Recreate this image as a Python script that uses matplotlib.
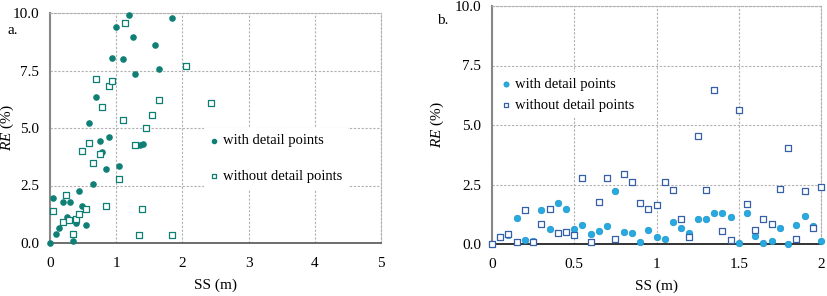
import matplotlib
matplotlib.use("Agg")
import matplotlib.pyplot as plt

# ---- Panel a data ----
a_with_x = [0.00, 0.09, 0.14, 0.20, 0.25, 0.04, 0.30, 0.34, 0.39, 0.44, 0.49, 0.55, 0.59, 0.65, 0.69, 0.75,
            0.79, 0.84, 0.89, 0.94, 1.00, 1.04, 1.10, 1.19, 1.25, 1.29, 1.36, 1.40, 1.59, 1.64, 1.84]
a_with_y = [0.00, 0.40, 0.65, 1.80, 1.15, 1.97, 1.80, 0.10, 0.85, 2.26, 1.60, 0.80, 5.22, 2.55, 6.35, 4.43,
            3.97, 3.20, 4.60, 8.06, 9.40, 3.35, 8.02, 9.90, 8.97, 7.35, 4.25, 4.30, 8.60, 7.55, 9.80]
a_without_x = [0.04, 0.19, 0.24, 0.29, 0.34, 0.39, 0.44, 0.48, 0.54, 0.59, 0.65, 0.69, 0.75, 0.79, 0.84,
               0.89, 0.94, 1.04, 1.10, 1.14, 1.29, 1.35, 1.39, 1.45, 1.54, 1.64, 1.84, 2.05, 2.43]
a_without_y = [1.37, 0.92, 2.09, 1.00, 0.38, 1.04, 1.26, 4.00, 1.50, 4.35, 3.50, 7.15, 3.89, 5.90, 1.63,
               6.81, 7.06, 2.79, 5.36, 9.57, 4.28, 0.33, 1.50, 5.00, 5.55, 6.23, 0.36, 7.70, 6.10]

# ---- Panel b data ----
b_x = [0.00, 0.05, 0.10, 0.15, 0.20, 0.25, 0.30, 0.35, 0.40, 0.45, 0.50, 0.55, 0.60, 0.65, 0.70, 0.75,
       0.80, 0.85, 0.90, 0.95, 1.00, 1.05, 1.10, 1.15, 1.20, 1.25, 1.30, 1.35, 1.40, 1.45, 1.50, 1.55,
       1.60, 1.65, 1.70, 1.75, 1.80, 1.85, 1.90, 1.95, 2.00]
b_with_y = [0.00, 0.29, 0.39, 1.09, 0.18, 0.13, 1.42, 0.62, 1.74, 1.46, 0.62, 0.80, 0.41, 0.55, 0.77, 2.23,
            0.49, 0.45, 0.10, 0.59, 0.29, 0.21, 0.91, 0.66, 0.47, 1.06, 1.06, 1.32, 1.32, 1.15, 0.05, 1.32,
            0.35, 0.05, 0.14, 0.66, 0.01, 0.78, 1.18, 0.77, 0.14]
b_without_y = [0.00, 0.29, 0.42, 0.10, 1.42, 0.08, 0.85, 1.46, 0.45, 0.49, 0.38, 2.79, 0.07, 1.78, 2.79, 0.21,
               2.93, 2.59, 1.71, 1.47, 1.63, 2.62, 2.27, 1.06, 0.29, 4.54, 2.27, 6.47, 0.55, 0.18, 5.63, 1.67,
               0.59, 1.06, 0.83, 2.31, 4.03, 0.21, 2.23, 0.66, 2.39]

a_xticks = [0, 1, 2, 3, 4, 5]
b_xticks = [0, 0.5, 1, 1.5, 2]
b_xticklabels = ["0", "0.5", "1", "1.5", "2"]
yticks = [0.0, 2.5, 5.0, 7.5, 10.0]
yticklabels = ["0.0", "2.5", "5.0", "7.5", "10.0"]
labels = ["with detail points", "without detail points"]

plt.rcParams['font.family'] = ['Liberation Serif', 'DejaVu Serif']
plt.rcParams['mathtext.fontset'] = 'custom'
plt.rcParams['mathtext.rm'] = 'Liberation Serif'
plt.rcParams['mathtext.it'] = 'Liberation Serif:italic'

W, H = 827, 296
fig = plt.figure(figsize=(W / 100, H / 100), dpi=100)

def px_axes(x0, x1, ytop, ybot):
    return fig.add_axes([x0 / W, 1 - ybot / H, (x1 - x0) / W, (ybot - ytop) / H])

axa = px_axes(50, 381, 13, 243)
axb = px_axes(492, 821, 6, 244)

def style(ax, xlim, xticks, xticklabels, bottom_color):
    ax.set_xlim(*xlim)
    ax.set_ylim(0, 10)
    ax.set_xticks(xticks)
    ax.set_xticklabels(xticklabels, fontsize=11)
    ax.set_yticks(yticks)
    ax.set_yticklabels(yticklabels, fontsize=11)
    ax.tick_params(axis='x', length=0, pad=10)
    ax.tick_params(axis='y', length=0, pad=8)
    ax.grid(True, linestyle=(0, (2, 1.5)), color='#b0b0b0', linewidth=0.8)
    ax.set_axisbelow(True)
    for s in ['top', 'right']:
        ax.spines[s].set_linestyle((0, (2, 1.5)))
        ax.spines[s].set_color('#b0b0b0')
        ax.spines[s].set_linewidth(0.8)
    ax.spines['left'].set_color('#888888')
    ax.spines['left'].set_linewidth(1.5)
    ax.spines['bottom'].set_color(bottom_color)
    ax.spines['bottom'].set_linewidth(1.2)
    ax.set_xlabel("SS (m)", fontsize=11, labelpad=6)
    ax.set_ylabel(r"$\mathit{RE}$ (%)", fontsize=11)

# Panel a
teal = '#0f7f76'
axa.scatter(a_with_x, a_with_y, s=14, marker='o', color=teal, edgecolors=teal, zorder=3, clip_on=False,
            label=labels[0])
axa.scatter(a_without_x, a_without_y, s=13, marker='s', facecolors='white', edgecolors=teal, linewidths=0.9,
            zorder=3, clip_on=False, label=labels[1])
style(axa, (0, 5), a_xticks, [str(t) for t in a_xticks], '#555555')
axa.yaxis.set_label_coords(-0.103, 0.5)
axa.legend(loc='upper left', bbox_to_anchor=(0.443, 0.53), fontsize=10.5, frameon=True, facecolor='white',
           edgecolor='none', framealpha=1, fancybox=False, handlelength=0.6, handletextpad=0.3,
           labelspacing=1.55, markerscale=0.8, borderpad=0.4)

# Panel b
blue_fill = '#27aae1'
blue_edge = '#3560a8'
axb.scatter(b_x, b_with_y, s=22, marker='o', color=blue_fill, edgecolors='#1d95c8', linewidths=0.5,
            zorder=3, clip_on=False, label=labels[0])
axb.scatter(b_x, b_without_y, s=20, marker='s', facecolors='white', edgecolors=blue_edge, linewidths=0.9,
            zorder=3, clip_on=False, label=labels[1])
style(axb, (0, 2), b_xticks, b_xticklabels, '#111111')
axb.yaxis.set_label_coords(-0.14, 0.5)
axb.legend(loc='upper left', bbox_to_anchor=(-0.01, 0.755), fontsize=10.5, frameon=True, facecolor='white',
           edgecolor='none', framealpha=1, fancybox=False, handlelength=0.6, handletextpad=0.3,
           labelspacing=0.55, markerscale=0.8, borderpad=0.4)

fig.text(8 / W, 1 - 30 / H, "a.", fontsize=11, va='center', ha='left')
fig.text(437 / W, 1 - 20 / H, "b.", fontsize=11, va='center', ha='left')

fig.savefig("out.png", dpi=100)
